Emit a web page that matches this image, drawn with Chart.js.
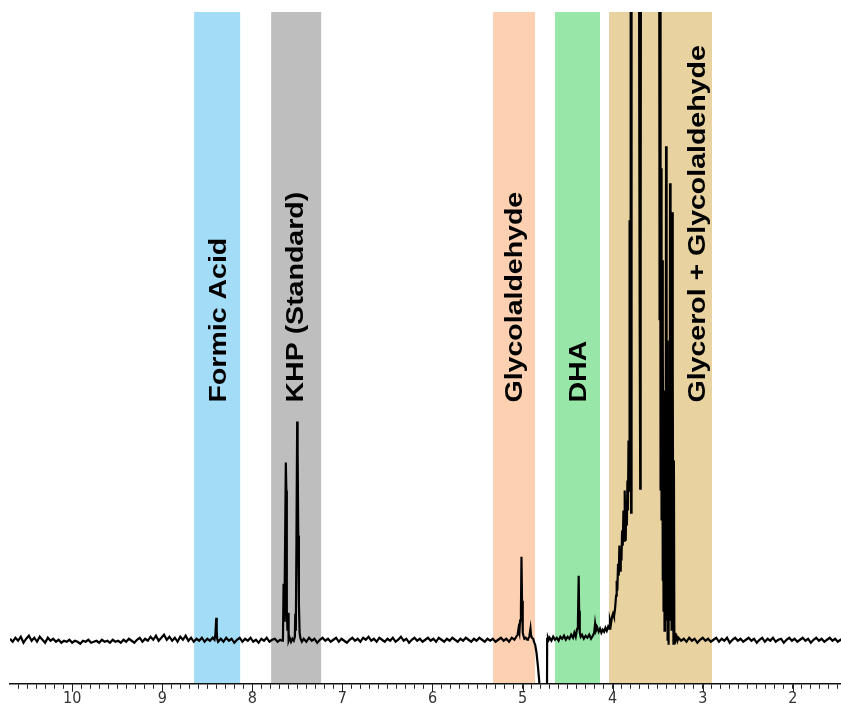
<!DOCTYPE html>
<html>
<head>
<meta charset="utf-8">
<title>NMR spectrum</title>
<script src="https://cdn.jsdelivr.net/npm/chart.js@4/dist/chart.umd.min.js"></script>
<style>
    body { margin: 0; background: #fff; }
    #wrap { width: 841px; height: 708px; position: relative; }
</style>
</head>
<body>
<div id="wrap"><canvas id="nmr"></canvas></div>
<script>
// Chemical shift range (ppm) and intensity range
const shiftMin = 1.465;
const shiftMax = 10.69;
const intensityMin = -43;
const intensityMax = 628;

// Assignment bands
const bandLabels = ['Formic Acid', 'KHP (Standard)', 'Glycolaldehyde', 'DHA', 'Glycerol + Glycolaldehyde'];
const bandFrom = [8.646, 7.791, 5.327, 4.64, 4.04];
const bandTo = [8.135, 7.236, 4.861, 4.14, 2.897];
const bandColors = ['#a2dcf6', '#bebebe', '#fcd0b0', '#98e6a8', '#e8d2a0'];
const labelShift = [8.37, 7.51, 5.08, 4.37, 3.05];
const labelBase = 238;

// Spectrum: [ppm, intensity]
const spectrum = [
    [10.69, 2], [10.66, -1], [10.63, 3], [10.60, 0], [10.57, 4], [10.54, -2], [10.51, 2], [10.48, 5],
    [10.45, 0], [10.42, 3], [10.39, -1], [10.36, 4], [10.33, 1], [10.30, -2], [10.27, 3], [10.24, 0],
    [10.21, 2], [10.18, -1], [10.15, 1], [10.12, -2], [10.09, 0], [10.06, -1], [10.03, 1], [10.00, -2],
    [9.97, 0], [9.94, -1], [9.91, -3], [9.88, 0], [9.85, -1], [9.82, 1], [9.79, -2], [9.76, -1],
    [9.73, 0], [9.70, -2], [9.67, 1], [9.64, -1], [9.61, 0], [9.58, -2], [9.55, 1], [9.52, -1],
    [9.49, 0], [9.46, -2], [9.43, 1], [9.40, -1], [9.37, 2], [9.34, 0], [9.31, -2], [9.28, 1],
    [9.25, 3], [9.22, -1], [9.19, 2], [9.16, 0], [9.13, 4], [9.10, 1], [9.07, 5], [9.04, 0],
    [9.01, 3], [8.98, 6], [8.95, 1], [8.92, 4], [8.89, 0], [8.86, 3], [8.83, -1], [8.80, 4],
    [8.77, 1], [8.74, 5], [8.71, 0], [8.68, 3], [8.65, -1], [8.62, 2], [8.59, 0], [8.56, 3],
    [8.53, -1], [8.50, 2], [8.47, 0], [8.44, 3], [8.42, 1], [8.41, 6], [8.40, 23], [8.395, 10],
    [8.39, 2], [8.38, -1], [8.35, 2], [8.32, -1], [8.29, 3], [8.26, 0], [8.23, 2], [8.20, -2],
    [8.17, 1], [8.14, 3], [8.11, -1], [8.08, 2], [8.05, 0], [8.02, 3], [7.99, -1], [7.96, 1],
    [7.93, -2], [7.90, 2], [7.87, 0], [7.84, 3], [7.81, -1], [7.78, 1], [7.75, 2], [7.72, -1],
    [7.69, 1], [7.67, 0],
    // KHP
    [7.66, 1], [7.653, 57], [7.648, 20], [7.64, 60], [7.628, 178], [7.622, 150], [7.617, 30], [7.61, 10],
    [7.602, 28], [7.597, 0], [7.585, 3], [7.57, -1], [7.555, 2], [7.54, 0], [7.528, 4], [7.523, 27],
    [7.517, 10], [7.51, 100], [7.502, 219], [7.497, 190], [7.49, 105], [7.483, 37], [7.475, 8], [7.465, 2],
    [7.45, -1],
    [7.43, 2], [7.40, -1], [7.37, 3], [7.34, 0], [7.31, 2], [7.28, -2], [7.25, 1], [7.22, 3],
    [7.19, 0], [7.16, 2], [7.13, -1], [7.10, 1], [7.07, 3], [7.04, -1], [7.01, 2], [6.98, 0],
    [6.95, -2], [6.92, 1], [6.89, 3], [6.86, 0], [6.83, 2], [6.80, -1], [6.77, 3], [6.74, 1],
    [6.71, 4], [6.68, 0], [6.65, 2], [6.62, -1], [6.59, 3], [6.56, 1], [6.53, -1], [6.50, 2],
    [6.47, 0], [6.44, 3], [6.41, -1], [6.38, 1], [6.35, 4], [6.32, 0], [6.29, 2], [6.26, -2],
    [6.23, 1], [6.20, 3], [6.17, 0], [6.14, 2], [6.11, -1], [6.08, 1], [6.05, 3], [6.02, 0],
    [5.99, 2], [5.96, -1], [5.93, 3], [5.90, 1], [5.87, -1], [5.84, 2], [5.81, 0], [5.78, 3],
    [5.75, 1], [5.72, -1], [5.69, 2], [5.66, 0], [5.63, 3], [5.60, 1], [5.57, -1], [5.54, 2],
    [5.51, 0], [5.48, 3], [5.45, 1], [5.42, -1], [5.39, 2], [5.36, 0], [5.33, 2], [5.30, -1],
    [5.27, 1], [5.24, 3], [5.21, 0], [5.18, 2], [5.15, -1], [5.12, 3], [5.09, 1],
    // Glycolaldehyde and water dip
    [5.07, 4], [5.055, 6], [5.045, 12], [5.035, 8], [5.028, 20], [5.018, 30], [5.012, 84], [5.006, 40],
    [4.998, 8], [4.99, 5], [4.98, 2], [4.965, 3], [4.95, 1], [4.94, 2], [4.925, 4], [4.912, 12],
    [4.905, 5], [4.895, 3], [4.882, 2], [4.87, -2], [4.86, -4], [4.845, -12], [4.83, -25], [4.815, -40],
    [4.805, -90], [4.73, -90], [4.727, 2], [4.718, 3], [4.71, 1],
    // DHA
    [4.70, 3], [4.68, 0], [4.66, 4], [4.64, 1], [4.62, 3], [4.60, 0], [4.58, 4], [4.56, 2],
    [4.54, 5], [4.52, 1], [4.50, 4], [4.48, 2], [4.46, 6], [4.44, 3], [4.425, 8], [4.41, 4],
    [4.395, 12], [4.385, 20], [4.377, 65], [4.372, 30], [4.365, 8], [4.355, 4], [4.34, 6], [4.32, 2],
    [4.30, 5], [4.28, 3], [4.26, 6], [4.24, 2], [4.22, 5], [4.205, 8], [4.195, 17], [4.185, 10],
    [4.17, 13], [4.155, 9], [4.14, 12], [4.125, 8], [4.11, 11], [4.095, 9], [4.08, 13], [4.065, 10],
    [4.05, 14],
    // Glycerol + glycolaldehyde envelope
    [4.04, 12], [4.03, 20], [4.02, 16], [4.007, 24], [3.996, 27], [3.985, 24], [3.973, 32], [3.962, 45],
    [3.955, 60], [3.948, 50], [3.94, 77], [3.932, 65], [3.925, 95], [3.918, 70], [3.91, 90], [3.902, 80],
    [3.895, 110], [3.888, 95], [3.88, 130], [3.872, 100], [3.866, 150], [3.862, 125], [3.855, 100], [3.848, 140],
    [3.842, 115], [3.836, 160], [3.83, 130], [3.824, 200], [3.818, 150], [3.812, 420], [3.806, 250], [3.80, 900],
    [3.795, 128], [3.79, 900], [3.75, 900], [3.71, 900], [3.704, 500], [3.699, 300], [3.694, 152], [3.689, 400],
    [3.684, 900], [3.62, 900], [3.55, 900], [3.485, 900], [3.479, 320], [3.474, 700], [3.468, 150], [3.463, 472],
    [3.457, 120], [3.452, 380], [3.446, 60], [3.441, 300], [3.435, 30], [3.43, 250], [3.424, 10], [3.419, 200],
    [3.413, 40], [3.407, 494], [3.401, 20], [3.396, 300], [3.39, 0], [3.385, 200], [3.379, -4], [3.374, 150],
    [3.368, 20], [3.363, 457], [3.357, 60], [3.352, 250], [3.346, 10], [3.341, 428], [3.336, 40], [3.33, 270],
    [3.325, -3], [3.32, 180], [3.315, -2], [3.308, 8], [3.30, 1], [3.29, 4], [3.28, 0],
    [3.27, 3], [3.24, 0], [3.21, 2], [3.18, -1], [3.15, 3], [3.12, 0], [3.09, 2], [3.06, -2],
    [3.03, 1], [3.00, 3], [2.97, 0], [2.94, 2], [2.91, -1], [2.88, 1], [2.85, 3], [2.82, -1],
    [2.79, 2], [2.76, 0], [2.73, 3], [2.70, -2], [2.67, 1], [2.64, 3], [2.61, 0], [2.58, 2],
    [2.55, -1], [2.52, 1], [2.49, 3], [2.46, 0], [2.43, 2], [2.40, -2], [2.37, 1], [2.34, 3],
    [2.31, -1], [2.28, 2], [2.25, 0], [2.22, 3], [2.19, -1], [2.16, 1], [2.13, 2], [2.10, -2],
    [2.07, 1], [2.04, 3], [2.01, 0], [1.98, 2], [1.95, -1], [1.92, 1], [1.89, 3], [1.86, 0],
    [1.83, 2], [1.80, -2], [1.77, 1], [1.74, 3], [1.71, 0], [1.68, 2], [1.65, -1], [1.62, 1],
    [1.59, 3], [1.56, 0], [1.53, 2], [1.50, -1], [1.47, 1], [1.46, 0]
];

// Coloured assignment bands with rotated labels
const bandPlugin = {
    id: 'bands',
    beforeDraw(chart) {
        const { ctx, chartArea, scales: { x, y } } = chart;
        ctx.save();
        bandFrom.forEach((from, i) => {
            const a = x.getPixelForValue(from);
            const b = x.getPixelForValue(bandTo[i]);
            ctx.fillStyle = bandColors[i];
            ctx.fillRect(Math.min(a, b), chartArea.top, Math.abs(b - a), chartArea.bottom - chartArea.top);
        });
        ctx.fillStyle = '#000';
        ctx.font = 'bold 28.5px "Liberation Sans", Arial, sans-serif';
        ctx.textAlign = 'left';
        ctx.textBaseline = 'middle';
        bandLabels.forEach((label, i) => {
            ctx.save();
            ctx.translate(x.getPixelForValue(labelShift[i]), y.getPixelForValue(labelBase));
            ctx.rotate(-Math.PI / 2);
            ctx.scale(1, 0.85);
            ctx.fillText(label, 0, 0);
            ctx.restore();
        });
        ctx.restore();
    },
    afterDraw(chart) {
        // longer tick marks at whole ppm values
        const { ctx, chartArea, scales: { x } } = chart;
        ctx.save();
        ctx.strokeStyle = '#222';
        ctx.lineWidth = 1;
        for (let v = Math.ceil(shiftMin); v <= Math.floor(shiftMax); v++) {
            const px = Math.round(x.getPixelForValue(v)) + 0.5;
            ctx.beginPath();
            ctx.moveTo(px, chartArea.bottom);
            ctx.lineTo(px, chartArea.bottom + 8);
            ctx.stroke();
        }
        ctx.restore();
    }
};

const nmrCtx = document.getElementById('nmr').getContext('2d');
const nmrChart = new Chart(nmrCtx, {
    type: 'line',
    data: {
        datasets: [{
            data: spectrum.map(p => ({ x: p[0], y: p[1] })),
            borderColor: '#000',
            borderWidth: 2.2,
            pointRadius: 0,
            tension: 0,
            fill: false
        }]
    },
    options: {
        responsive: true,
        maintainAspectRatio: false,
        animation: false,
        parsing: false,
        layout: { padding: { left: 10, top: 12, right: 0, bottom: 0 } },
        plugins: {
            legend: { display: false },
            tooltip: { enabled: false }
        },
        scales: {
            x: {
                type: 'linear',
                reverse: true,
                min: shiftMin,
                max: shiftMax,
                border: { display: true, color: '#111', width: 1.5 },
                grid: {
                    drawOnChartArea: false,
                    drawTicks: true,
                    tickLength: 5,
                    tickColor: '#222'
                },
                ticks: {
                    stepSize: 0.1,
                    includeBounds: false,
                    autoSkip: false,
                    maxRotation: 0,
                    padding: 0,
                    color: '#333',
                    font: { family: "'Liberation Sans Narrow', 'DejaVu Sans Condensed', sans-serif", size: 16 },
                    callback: v => Math.abs(v - Math.round(v)) < 1e-6 ? String(Math.round(v)) : ''
                }
            },
            y: {
                display: false,
                min: intensityMin,
                max: intensityMax
            }
        }
    },
    plugins: [bandPlugin]
});
</script>
</body>
</html>
